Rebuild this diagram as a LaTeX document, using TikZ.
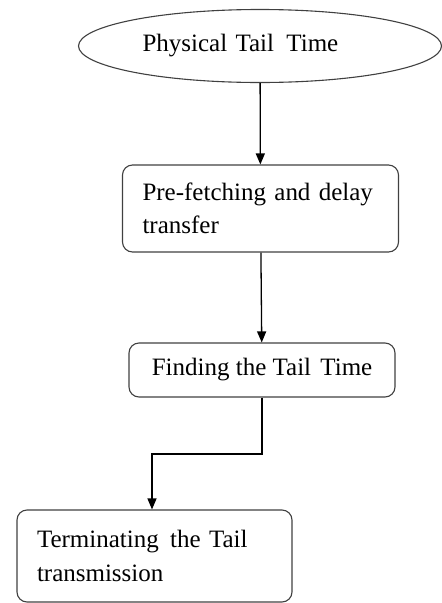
\documentclass[tikz,border=0pt]{standalone}
\usepackage{fontspec}
\setmainfont{Liberation Serif}
\usetikzlibrary{positioning,arrows.meta,shapes.geometric}

\begin{document}
\begin{tikzpicture}[x=1pt,y=-1pt,->,>={Triangle[length=11pt,width=9pt]},line width=1.3pt,
    font=\fontsize{25}{33.5}\selectfont,
    oval node/.style={ellipse,draw=black!75,line width=1.1pt,minimum width=363pt,minimum height=73pt,inner sep=0pt},
    step node/.style={rectangle,rounded corners=10pt,draw=black!75,line width=1.1pt,align=left,inner xsep=20pt,inner ysep=0pt}]

\useasboundingbox (0,0) rectangle (442,603);

\node[oval node,text width=235pt,align=left]                  (phys)  at (260,46)    {Physical Tail\hspace{4pt} Time};
\node[step node,text width=236pt,minimum height=87pt]         (pre)   at (260.5,208.5) {Pre-fetching and delay\\transfer};
\node[step node,align=center,minimum width=266pt,minimum height=54pt] (fin) at (262,370) {Finding the Tail\hspace{3pt} Time};
\node[step node,text width=235pt,minimum height=92pt]         (term)  at (154.5,556) {Terminating\hspace{3pt} the Tail\\transmission};
\coordinate (bend) at (152,454);

\draw (phys) -- (pre);
\draw (pre) -- (fin);
\draw (fin.south) |- (bend) -- (bend |- term.north);
\end{tikzpicture}
\end{document}
